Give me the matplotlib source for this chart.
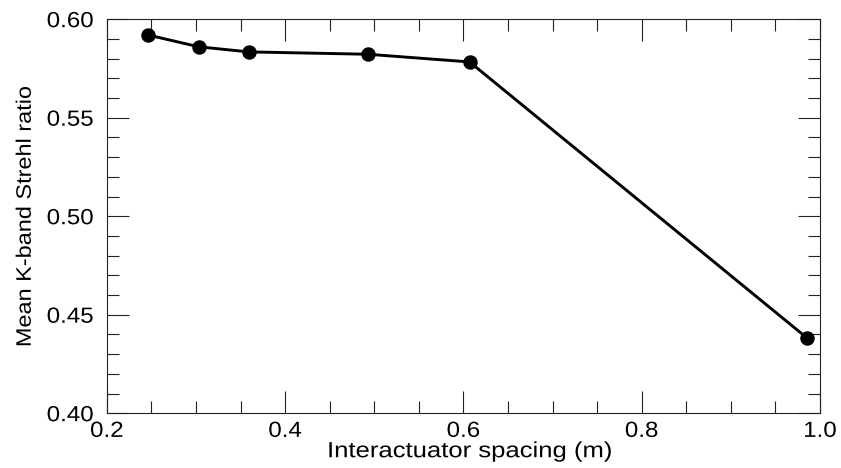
import matplotlib
matplotlib.use("Agg")
import matplotlib.pyplot as plt
from matplotlib.patheffects import AbstractPathEffect
from matplotlib.ticker import MultipleLocator, FormatStrFormatter
from matplotlib.transforms import Affine2D

# interactuator spacing (m) vs mean K-band Strehl
spacing = [0.246, 0.303, 0.359, 0.493, 0.607, 0.986]
strehl = [0.592, 0.586, 0.5834, 0.5822, 0.5783, 0.438]

x_label = "Interactuator spacing (m)"
y_label = "Mean K-band Strehl ratio"


class Widen(AbstractPathEffect):
    # the lettering in the source is wider than Liberation Sans,
    # so widen the glyph run along its reading direction
    def __init__(self, s, anchor='center'):
        super().__init__()
        self.s = s
        self.anchor = anchor

    def draw_path(self, renderer, gc, tpath, affine, rgbFace=None):
        ext = tpath.get_extents()
        if self.anchor == 'right':
            x0 = ext.x1
        elif self.anchor == 'left':
            x0 = ext.x0
        else:
            x0 = 0.5 * (ext.x0 + ext.x1)
        tr = Affine2D().translate(-x0, 0).scale(self.s, 1).translate(x0, 0) + affine
        renderer.draw_path(gc, tpath, tr, rgbFace)


def main():
    plt.rcParams['font.family'] = ['Liberation Sans', 'DejaVu Sans']

    fig = plt.figure(figsize=(8.41, 4.68), dpi=100)
    ax = fig.add_axes([0.127, 0.117, 0.848, 0.842])

    ax.plot(spacing, strehl, color='black', linewidth=2.1,
            marker='o', markersize=9.4)

    ax.set_xlim(0.2, 1.0)
    ax.set_ylim(0.40, 0.60)

    ax.xaxis.set_major_locator(MultipleLocator(0.2))
    ax.xaxis.set_minor_locator(MultipleLocator(0.05))
    ax.xaxis.set_major_formatter(FormatStrFormatter('%.1f'))
    ax.yaxis.set_major_locator(MultipleLocator(0.05))
    ax.yaxis.set_minor_locator(MultipleLocator(0.01))
    ax.yaxis.set_major_formatter(FormatStrFormatter('%.2f'))

    ax.tick_params(which='both', direction='in', top=True, right=True,
                   labelsize=15.8, width=0.8, color='#222222')
    ax.tick_params(which='major', length=15.8)
    ax.tick_params(which='minor', length=8.4)
    ax.tick_params(axis='x', pad=5.5)
    ax.tick_params(axis='y', pad=9.5)
    for s in ax.spines.values():
        s.set_linewidth(0.8)
        s.set_color('#222222')

    for lab in ax.get_xticklabels():
        lab.set_path_effects([Widen(1.1)])
    for lab in ax.get_yticklabels():
        lab.set_path_effects([Widen(1.1, 'right')])

    ax.set_xlabel(x_label, fontsize=15.8, path_effects=[Widen(1.17)])
    ax.xaxis.set_label_coords(0.509, -0.071)
    ax.set_ylabel(y_label, fontsize=15.1, path_effects=[Widen(1.12)])
    ax.yaxis.set_label_coords(-0.101, 0.5)

    fig.savefig("out.png", dpi=100)


if __name__ == '__main__':
    main()
